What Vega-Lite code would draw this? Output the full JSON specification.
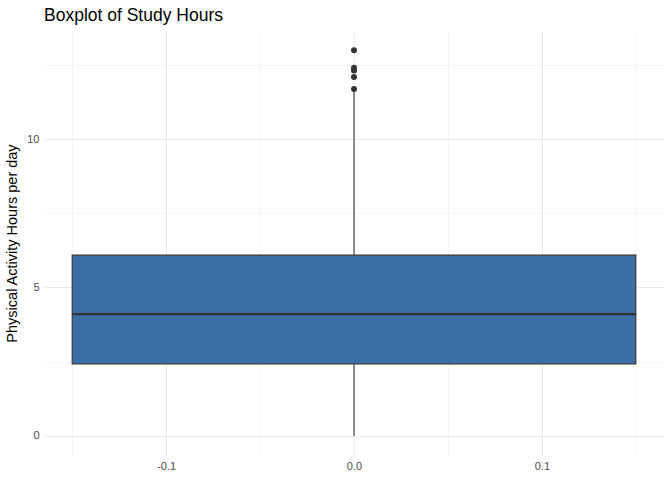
{
  "$schema": "https://vega.github.io/schema/vega-lite/v6.json",
  "autosize": {"type": "none"},
  "padding": {"left": 44, "top": 31, "right": 8, "bottom": 25},
  "width": 620,
  "height": 424,
  "background": "white",
  "title": {
    "text": "Boxplot of Study Hours",
    "anchor": "start",
    "frame": "group",
    "font": "Liberation Sans",
    "fontSize": 17.5,
    "fontWeight": "normal",
    "color": "#000000",
    "offset": 7
  },
  "config": {
    "view": {"stroke": null},
    "axis": {
      "domain": false,
      "ticks": false,
      "labelFont": "Liberation Sans",
      "labelFontSize": 11,
      "labelColor": "#4D4D4D",
      "gridColor": "#EBEBEB",
      "titleFont": "Liberation Sans",
      "titleFontSize": 14.5,
      "titleFontWeight": "normal",
      "titleColor": "#000000"
    }
  },
  "datasets": {
    "box": [
      {"x_lo": -0.15, "x_hi": 0.15, "x_mid": 0, "low": 0, "q1": 2.42, "median": 4.1, "q3": 6.09, "high": 11.62}
    ],
    "outliers": [
      {"x": 0, "hours": 11.69},
      {"x": 0, "hours": 12.1},
      {"x": 0, "hours": 12.32},
      {"x": 0, "hours": 12.41},
      {"x": 0, "hours": 13.0}
    ]
  },
  "layer": [
    {
      "data": {"name": "box"},
      "mark": {"type": "rule", "color": "#333333", "strokeWidth": 1.1},
      "encoding": {
        "x": {
          "field": "x_mid",
          "type": "quantitative",
          "scale": {"domain": [-0.165, 0.165], "nice": false, "zero": false},
          "axis": {
            "title": null,
            "values": [-0.15, -0.1, -0.05, 0, 0.05, 0.1, 0.15],
            "labelExpr": "abs(datum.value * 10 - round(datum.value * 10)) < 0.001 ? replace(format(datum.value, '.1f'), '\u2212', '-') : ''",
            "labelPadding": 5,
            "gridWidth": {"condition": {"test": "abs(datum.value * 10 - round(datum.value * 10)) < 0.001", "value": 1}, "value": 0.5}
          }
        },
        "y": {
          "field": "low",
          "type": "quantitative",
          "scale": {"domain": [-0.65, 13.65], "nice": false, "zero": false},
          "axis": {
            "title": "Physical Activity Hours per day",
            "values": [0, 2.5, 5, 7.5, 10, 12.5],
            "labelExpr": "datum.value % 5 == 0 ? datum.label : ''",
            "labelPadding": 5,
            "titlePadding": 7,
            "gridWidth": {"condition": {"test": "datum.value % 5 == 0", "value": 1}, "value": 0.5}
          }
        },
        "y2": {"field": "high"}
      }
    },
    {
      "data": {"name": "box"},
      "mark": {"type": "rect", "fill": "#3A6EA5", "stroke": "#333333", "strokeWidth": 1.1},
      "encoding": {
        "x": {"field": "x_lo", "type": "quantitative"},
        "x2": {"field": "x_hi"},
        "y": {"field": "q1", "type": "quantitative"},
        "y2": {"field": "q3"}
      }
    },
    {
      "data": {"name": "box"},
      "mark": {"type": "rule", "color": "#333333", "strokeWidth": 2.4},
      "encoding": {
        "x": {"field": "x_lo", "type": "quantitative"},
        "x2": {"field": "x_hi"},
        "y": {"field": "median", "type": "quantitative"}
      }
    },
    {
      "data": {"name": "outliers"},
      "mark": {"type": "circle", "color": "#333333", "opacity": 1, "size": 36},
      "encoding": {
        "x": {"field": "x", "type": "quantitative"},
        "y": {"field": "hours", "type": "quantitative"}
      }
    }
  ]
}
